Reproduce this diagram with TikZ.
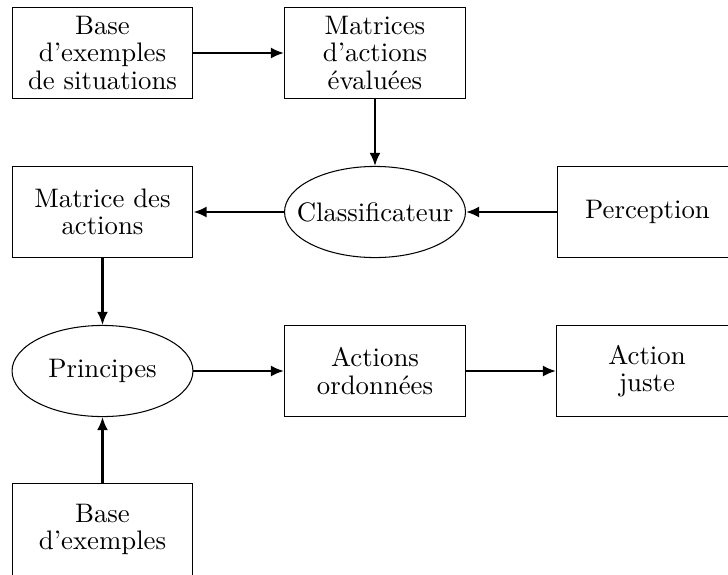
\documentclass[tikz,border=0pt]{standalone}
\usetikzlibrary{shapes.geometric,arrows.meta}
\begin{document}
\begin{tikzpicture}[x=0.383pt,y=-0.383pt,
  every node/.style={font=\fontsize{10.25}{10.4}\selectfont, align=center, inner sep=0pt},
  boite/.style={draw, rectangle, minimum width=69.3pt, minimum height=34.9pt},
  ovale/.style={draw, ellipse, minimum width=69.3pt, minimum height=34.9pt},
  fleche/.style={-{Latex[length=5pt,width=4.2pt]}, line width=0.8pt}]
\useasboundingbox (0,0) rectangle (728,574);

% first row
\node[boite] (base1) at (102.5,53) {Base\\d'exemples\\de situations};
\node[boite] (mat1)  at (375,53)   {Matrices\\d'actions\\évaluées};

% second row (ellipse labels in zero-width boxes keep the ellipse at its fixed size)
\node[boite] (mat2)  at (102.5,212) {Matrice des\\actions};
\node[ovale] (cls)   at (375,212)   {\makebox[0pt]{Classificateur}};
\node[boite] (perc)  at (647.5,212) {Perception};

% third row
\node[ovale] (princ) at (102.5,371) {\makebox[0pt]{Principes}};
\node[boite] (ord)   at (375,371)   {Actions\\ordonnées};
\node[boite] (juste) at (647,371)   {Action\\juste};

% fourth row
\node[boite] (base2) at (102.5,529.5) {Base\\d'exemples};

% connectors
\draw[fleche] (base1) -- (mat1);
\draw[fleche] (mat1) -- (cls);
\draw[fleche] (perc) -- (cls);
\draw[fleche] (cls) -- (mat2);
\draw[fleche] (mat2) -- (princ);
\draw[fleche] (princ) -- (ord);
\draw[fleche] (ord) -- (juste);
\draw[fleche] (base2) -- (princ);
\end{tikzpicture}
\end{document}
